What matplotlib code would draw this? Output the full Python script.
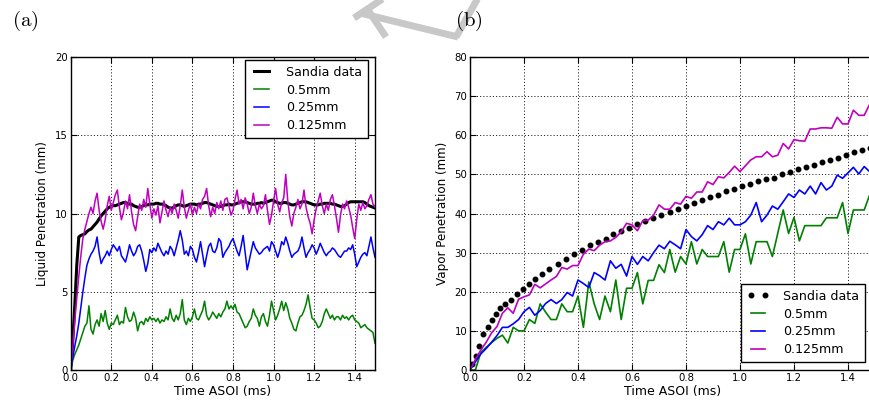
import numpy as np
import matplotlib
matplotlib.use('Agg')
from matplotlib import pyplot as plt
from matplotlib.lines import Line2D

# ---- (a) liquid penetration, sampled every 0.01 ms ----
t_liq = np.linspace(0, 1.5, 151)

liq_sandia = [
	0.0, 1.8, 4.1, 6.7, 8.5, 8.6, 8.65, 8.7, 8.85, 8.95,
	9.0, 9.15, 9.3, 9.45, 9.65, 9.85, 10.0, 10.15, 10.3, 10.4,
	10.45, 10.5, 10.5, 10.55, 10.6, 10.65, 10.7, 10.7, 10.65, 10.6,
	10.6, 10.5, 10.45, 10.4, 10.4, 10.45, 10.5, 10.55, 10.55, 10.6,
	10.6, 10.6, 10.65, 10.65, 10.6, 10.6, 10.55, 10.5, 10.4, 10.35,
	10.35, 10.4, 10.5, 10.55, 10.55, 10.5, 10.45, 10.5, 10.55, 10.6,
	10.6, 10.6, 10.55, 10.6, 10.6, 10.65, 10.7, 10.7, 10.65, 10.6,
	10.55, 10.5, 10.45, 10.45, 10.45, 10.5, 10.55, 10.55, 10.6, 10.55,
	10.55, 10.6, 10.65, 10.7, 10.75, 10.75, 10.75, 10.7, 10.65, 10.6,
	10.6, 10.6, 10.65, 10.65, 10.7, 10.65, 10.7, 10.75, 10.8, 10.85,
	10.85, 10.75, 10.7, 10.65, 10.65, 10.7, 10.7, 10.65, 10.6, 10.55,
	10.55, 10.6, 10.65, 10.7, 10.75, 10.75, 10.75, 10.7, 10.65, 10.6,
	10.55, 10.55, 10.55, 10.6, 10.6, 10.65, 10.65, 10.65, 10.65, 10.6,
	10.6, 10.55, 10.5, 10.45, 10.45, 10.5, 10.6, 10.7, 10.75, 10.75,
	10.75, 10.75, 10.75, 10.75, 10.75, 10.7, 10.6, 10.5, 10.45, 10.4,
	10.35]

liq_05 = [
	0.0, 0.6, 1.0, 1.3, 1.6, 2.0, 2.4, 2.8, 3.0, 4.1,
	2.6, 2.3, 2.9, 3.2, 2.8, 3.6, 3.1, 3.8, 3.0, 2.6,
	3.0, 2.9, 3.2, 3.5, 2.9, 3.1, 3.0, 4.0, 3.4, 3.1,
	3.2, 3.7, 3.3, 2.5, 3.0, 3.1, 2.9, 3.3, 3.1, 3.4,
	3.2, 3.3, 3.1, 3.3, 3.0, 3.2, 3.1, 3.4, 3.2, 3.9,
	3.3, 3.1, 3.5, 3.2, 3.6, 4.5, 3.2, 2.9, 3.3, 3.1,
	3.4, 3.9, 3.3, 3.2, 3.5, 3.8, 4.4, 3.5, 3.2, 3.4,
	3.7, 3.5, 3.3, 3.6, 3.4, 3.7, 3.9, 4.4, 3.9, 4.1,
	3.9, 4.2, 3.7, 3.6, 3.3, 3.0, 2.7, 2.8, 3.1, 3.3,
	3.9, 3.5, 3.3, 2.8, 3.4, 3.6, 3.1, 2.8, 3.5, 4.4,
	3.8, 3.2, 3.5, 3.9, 4.4, 3.8, 4.3, 3.9, 3.3, 3.0,
	2.6, 2.5, 3.0, 3.4, 3.5, 3.8, 4.2, 4.8, 4.0, 3.3,
	3.2, 3.0, 2.7, 2.8, 3.1, 3.6, 3.9, 3.6, 3.3, 3.5,
	3.2, 3.4, 3.4, 3.2, 3.5, 3.3, 3.4, 3.2, 3.4, 3.5,
	3.2, 3.1, 3.0, 2.7, 2.8, 2.9, 2.7, 2.6, 2.5, 2.4,
	1.7]

liq_025 = [
	0.0, 0.8, 1.5, 2.2, 3.0, 4.0, 5.0, 5.9, 6.7, 7.1,
	7.4, 7.6, 7.9, 8.5, 7.5, 6.8, 7.1, 7.3, 7.6, 7.3,
	7.7, 8.0, 7.8, 7.6, 7.9, 7.3, 7.1, 6.9, 7.4, 8.0,
	7.6, 7.3, 7.5, 7.9, 8.0, 7.6, 7.0, 6.3, 6.8, 7.7,
	7.5, 7.8, 7.6, 8.1, 7.8, 7.5, 7.3, 7.6, 7.4, 7.9,
	7.7, 7.3, 7.8, 8.3, 8.9, 8.3, 7.4, 7.6, 7.3, 7.9,
	7.7, 7.2, 6.9, 7.5, 8.2, 7.4, 6.6, 7.3, 7.9, 8.1,
	7.6, 7.5, 7.8, 8.4, 8.2, 7.2, 7.5, 7.7, 7.9, 8.2,
	8.4, 8.0, 7.6, 7.3, 7.9, 8.6, 7.5, 6.4, 7.0, 7.6,
	8.2, 7.8, 7.6, 7.4, 7.5, 7.7, 7.8, 7.9, 7.6, 8.2,
	8.0, 7.6, 7.2, 7.6, 8.2, 8.0, 8.5, 8.1, 7.6, 7.2,
	7.4, 7.5, 7.6, 7.9, 8.5, 7.8, 7.2, 7.5, 7.7, 8.0,
	7.8, 7.4, 7.7, 8.1, 7.8, 7.5, 7.3, 7.5, 7.6, 7.8,
	7.7, 7.5, 7.3, 7.2, 7.4, 7.6, 7.6, 7.8, 7.7, 8.0,
	7.4, 6.6, 6.9, 7.2, 7.4, 7.5, 7.3, 7.9, 8.5, 7.8,
	7.2]

liq_0125 = [
	0.0, 1.5, 3.1, 4.6, 6.0, 7.3, 8.4, 9.0, 9.5, 10.0,
	10.4, 10.0, 10.8, 11.3, 10.2, 9.5, 9.0, 9.6, 10.5, 11.1,
	10.2, 10.7, 11.2, 11.5, 10.4, 9.6, 10.1, 10.8, 10.3, 11.2,
	10.1, 9.3, 8.9, 9.8, 10.6, 10.2, 10.9, 10.4, 11.6, 10.6,
	9.7, 10.3, 9.9, 10.5, 9.4, 10.1, 10.8, 10.2, 9.8, 10.4,
	10.0, 10.6, 10.2, 9.7, 10.5, 11.5, 10.4, 9.7, 10.2, 10.6,
	9.9, 10.4, 10.0, 10.6, 10.3, 10.9, 11.1, 11.6, 10.5, 9.8,
	10.4, 10.0, 10.7, 10.3, 10.8, 10.2, 10.9, 11.0, 10.5, 9.9,
	10.2, 10.9, 11.5, 10.6, 10.9, 10.3, 11.0, 10.6, 10.0, 10.4,
	11.3, 10.5, 10.0, 10.6, 10.3, 10.5, 11.2, 10.2, 9.3, 9.9,
	10.8, 11.6, 10.6, 10.1, 10.7, 11.0, 12.5, 10.8, 9.8, 9.2,
	10.0, 10.4, 10.9, 10.3, 10.6, 11.5, 10.4, 9.8, 9.4, 8.7,
	9.6, 10.3, 10.8, 11.3, 10.5, 10.0, 10.6, 10.2, 10.9, 11.2,
	10.5, 9.7, 8.8, 9.9, 10.6, 10.3, 10.8, 10.4, 9.9, 9.1,
	8.4, 9.6, 10.6, 10.2, 10.7, 10.3, 10.5, 10.9, 11.2, 10.6,
	10.4]

# ---- (b) vapor penetration ----
t_sandia_vap = [
	0.008, 0.021, 0.035, 0.049, 0.065, 0.081, 0.096, 0.112, 0.130, 0.151,
	0.173, 0.195, 0.217, 0.242, 0.268, 0.294, 0.326, 0.356, 0.385, 0.416,
	0.444, 0.473, 0.502, 0.531, 0.560, 0.590, 0.620, 0.649, 0.677, 0.709,
	0.740, 0.769, 0.799, 0.828, 0.858, 0.888, 0.917, 0.947, 0.977, 1.006,
	1.036, 1.065, 1.095, 1.125, 1.154, 1.184, 1.214, 1.243, 1.273, 1.302,
	1.332, 1.362, 1.391, 1.421, 1.451, 1.480]
vap_sandia = [
	1.5, 3.7, 6.2, 9.1, 11.0, 12.8, 14.4, 15.8, 16.9, 18.0,
	19.4, 20.6, 22.0, 23.2, 24.5, 25.7, 27.1, 28.3, 29.6, 30.7,
	31.9, 32.8, 33.6, 34.7, 35.6, 36.4, 37.2, 38.2, 38.9, 39.7,
	40.5, 41.1, 41.9, 42.6, 43.4, 44.1, 44.8, 45.7, 46.3, 47.0,
	47.6, 48.2, 48.7, 49.2, 50.0, 50.7, 51.4, 52.0, 52.5, 53.2,
	53.8, 54.3, 55.0, 55.7, 56.2, 56.7]

t_vap = np.linspace(0, 1.5, 76)

vap_05 = [
	0, 0, 4.5, 5.8, 7.0, 8.1, 8.9, 6.9, 10.9, 10.0,
	10.0, 12.9, 11.9, 16.9, 14.8, 12.9, 12.9, 16.9, 14.9, 14.9,
	18.9, 10.9, 22.5, 16.9, 12.9, 18.9, 14.9, 23.0, 12.9, 20.9,
	20.9, 24.9, 16.9, 22.9, 22.9, 26.9, 24.9, 30.8, 25.0, 29.0,
	27.1, 32.8, 27.1, 30.8, 29.0, 29.0, 29.0, 32.8, 25.0, 30.8,
	30.8, 34.8, 27.1, 32.8, 32.8, 32.8, 29.0, 35.0, 40.9, 34.9,
	39.0, 33.0, 36.9, 36.9, 36.9, 36.9, 38.9, 38.9, 38.9, 42.8,
	34.9, 40.9, 40.9, 40.9, 44.7, 46.0]

vap_025 = [
	0, 2.1, 4.1, 5.5, 7.1, 8.8, 10.9, 10.9, 11.8, 12.9,
	14.9, 16.0, 14.0, 15.2, 17.0, 18.0, 17.0, 18.0, 19.8, 18.9,
	23.0, 22.1, 21.1, 24.9, 24.1, 23.0, 27.9, 26.0, 27.0, 24.0,
	29.0, 27.0, 29.0, 27.9, 30.0, 31.9, 31.0, 32.9, 32.0, 31.0,
	35.9, 34.1, 33.0, 34.6, 36.9, 35.9, 37.9, 37.1, 38.8, 37.1,
	37.1, 37.9, 39.6, 42.8, 37.9, 39.6, 41.9, 41.1, 43.0, 45.0,
	44.1, 46.0, 45.0, 47.0, 45.0, 47.9, 46.0, 47.0, 49.8, 49.0,
	50.4, 51.8, 50.1, 52.0, 50.7, 51.5]

vap_0125 = [
	0, 2.7, 5.1, 7.1, 9.5, 11.1, 14.5, 15.9, 14.5, 18.1,
	18.7, 19.2, 21.9, 21.0, 22.0, 23.0, 23.9, 26.2, 25.8, 26.7,
	26.7, 29.6, 30.9, 30.5, 31.9, 32.8, 33.0, 33.9, 35.3, 37.5,
	37.1, 35.6, 38.2, 38.3, 39.6, 42.2, 41.1, 41.1, 42.8, 42.4,
	44.4, 43.9, 45.5, 45.5, 48.1, 47.4, 49.4, 49.1, 50.5, 52.1,
	50.7, 52.2, 53.7, 54.5, 54.5, 55.8, 54.5, 54.9, 57.9, 56.5,
	58.9, 58.6, 58.5, 61.6, 61.6, 61.9, 61.9, 61.8, 64.6, 62.9,
	62.9, 66.4, 65.1, 65.1, 67.9, 68.5]

labels = ['Sandia data', '0.5mm', '0.25mm', '0.125mm']
xtick_labels = ['0.0', '0.2', '0.4', '0.6', '0.8', '1.0', '1.2', '1.4']
green, blue, magenta = (0, 0.5, 0), (0, 0, 1), (0.75, 0, 0.75)

plt.rcParams['font.family'] = 'DejaVu Sans'
plt.rcParams['mathtext.fontset'] = 'cm'
plt.rcParams['lines.scale_dashes'] = False

fig = plt.figure(figsize=(8.69, 4.03), dpi=100)
W, H = 869.0, 403.0


def style_axes(ax):
	ax.grid(True, linestyle=(0, (0.8, 1.5)), color='k', linewidth=0.6)
	ax.tick_params(direction='in', top=True, right=True, length=4, labelsize=7.3, pad=2)
	for s in ax.spines.values():
		s.set_linewidth(1.0)
	ax.set_xticks(np.arange(0, 1.41, 0.2))
	ax.set_xticklabels(xtick_labels)
	ax.set_xlabel('Time ASOI (ms)', fontsize=9, labelpad=1.5)


def legend(ax, loc, anchor):
	lg = ax.legend(loc=loc, bbox_to_anchor=anchor, borderaxespad=0, fontsize=9.1,
		fancybox=False, framealpha=1, edgecolor='k', numpoints=2,
		handlelength=1.75, handletextpad=1.1, labelspacing=0.38, borderpad=0.45)
	lg.get_frame().set_linewidth(1.0)


# panel (a)
ax1 = fig.add_axes([70.7 / W, 33 / H, 304.3 / W, 313 / H])
ax1.plot(t_liq, liq_sandia, color='k', lw=2.2, label=labels[0])
ax1.plot(t_liq, liq_05, color=green, lw=1.1, label=labels[1])
ax1.plot(t_liq, liq_025, color=blue, lw=1.1, label=labels[2])
ax1.plot(t_liq, liq_0125, color=magenta, lw=1.1, label=labels[3])
ax1.set_xlim(0, 1.5)
ax1.set_ylim(0, 20)
ax1.set_yticks([0, 5, 10, 15, 20])
style_axes(ax1)
ax1.set_ylabel('Liquid Penetration (mm)', fontsize=8.6, labelpad=4)
legend(ax1, 'upper right', (0.977, 0.99))

# panel (b), right part cut by the figure edge
ax2 = fig.add_axes([470 / W, 33 / H, 405 / W, 313 / H])
ax2.plot(t_sandia_vap, vap_sandia, 'k.', markersize=6.5, label=labels[0])
ax2.plot(t_vap, vap_05, color=green, lw=1.2, label=labels[1])
ax2.plot(t_vap, vap_025, color=blue, lw=1.2, label=labels[2])
ax2.plot(t_vap, vap_0125, color=magenta, lw=1.2, label=labels[3])
ax2.set_xlim(0, 1.5)
ax2.set_ylim(0, 80)
ax2.set_yticks(np.arange(0, 81, 10))
style_axes(ax2)
ax2.set_ylabel('Vapor Penetration (mm)', fontsize=8.6, labelpad=4)
legend(ax2, 'lower right', (0.975, 0.026))

fig.text(12 / W, 1 - 21 / H, r'$\mathrm{(a)}$', fontsize=15, va='center', ha='left')
fig.text(455 / W, 1 - 21 / H, r'$\mathrm{(b)}$', fontsize=15, va='center', ha='left')

# faint watermark strokes across the top
wm = '#c8c8c8'
for (x0, y0), (x1, y1) in [((354, 18), (384, -2)), ((360, 13), (458, 37)),
						   ((456, 37), (478, -2)), ((368, 10), (386, 37))]:
	fig.add_artist(Line2D([x0 / W, x1 / W], [1 - y0 / H, 1 - y1 / H],
		transform=fig.transFigure, color=wm, lw=5, solid_capstyle='butt', zorder=-1))

fig.savefig('out.png', dpi=100)
